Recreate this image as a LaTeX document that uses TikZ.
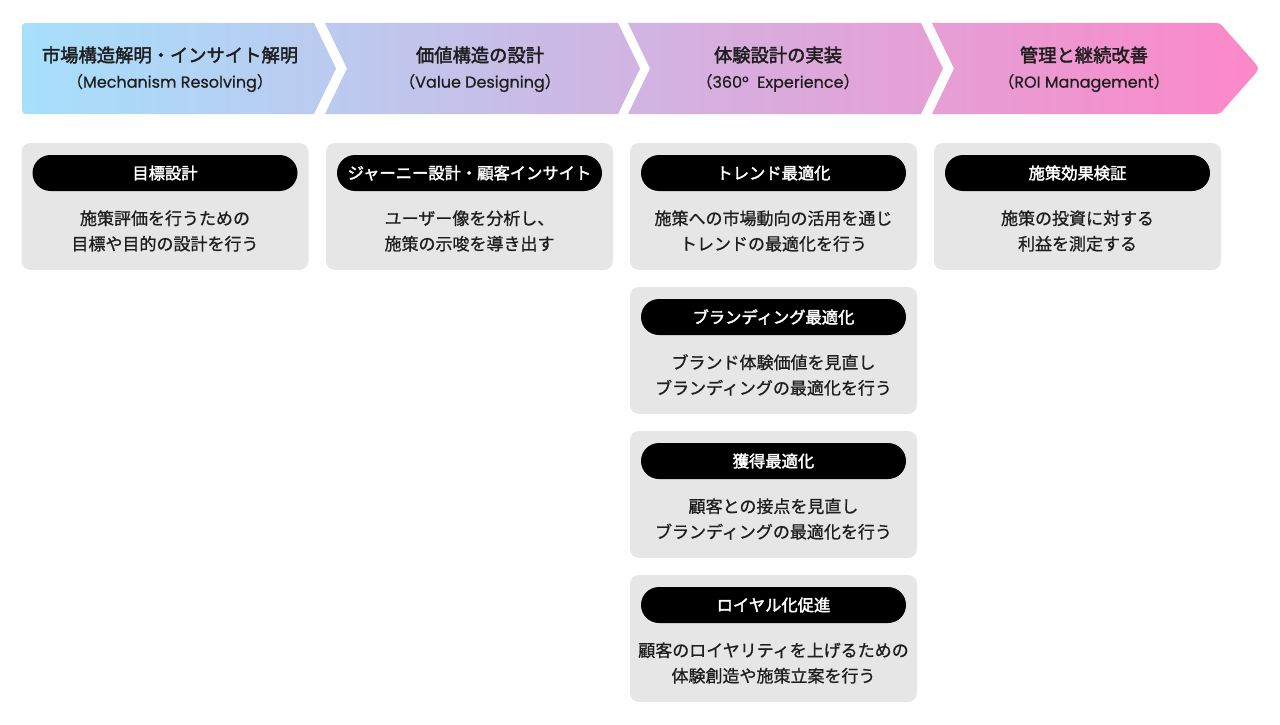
\documentclass[tikz,border=0pt]{standalone}
\usepackage{fontspec}
\setmainfont{Noto Sans CJK JP}
\newfontfamily\jpheavy{Noto Sans CJK JP}[FakeBold=2.2]
\newfontfamily\jpmedium{Noto Sans CJK JP}[FakeBold=0.9]
\newfontfamily\latinsub{Poppins}[FakeBold=0.6]
\usetikzlibrary{positioning}
\definecolor{flowsky}{RGB}{166,224,252}
\definecolor{flowlilac}{RGB}{210,182,230}
\definecolor{flowpink}{RGB}{252,136,200}
\definecolor{cardgray}{RGB}{230,230,230}
\definecolor{inkdark}{RGB}{30,30,30}
\newcommand{\subtag}[1]{（{\latinsub #1}）}
\begin{document}
\begin{tikzpicture}[x=1pt,y=-1pt]
                    \tikzstyle{every node}+=[inner sep=0pt]
                    \tikzstyle{phase}=[text=inkdark,font=\fontsize{18.3}{22}\jpheavy]
                    \tikzstyle{phasesub}=[text=inkdark,font=\fontsize{16}{20}\jpmedium]
                    \tikzstyle{card}=[fill=cardgray,rounded corners=9pt,minimum width=287pt,minimum height=127pt]
                    \tikzstyle{pill}=[fill=black,text=white,rounded corners=18pt,minimum width=265pt,minimum height=36pt,font=\fontsize{16.3}{20}\jpheavy]
                    \tikzstyle{memo}=[text=inkdark,align=center,font=\fontsize{17}{25.5}\jpmedium]
                    \useasboundingbox (0,0) rectangle (1280,725);
                    \shade [left color=flowsky, middle color=flowlilac, right color=flowpink]
                        (30,23) -- (314,23) -- (336,68.5) -- (314,114) -- (30,114) .. controls (22,114) .. (22,106) -- (22,31) .. controls (22,23) .. (30,23) -- cycle
                        (325,23) -- (618,23) -- (640,68.5) -- (618,114) -- (325,114) -- (347,68.5) -- cycle
                        (628,23) -- (921,23) -- (943,68.5) -- (921,114) -- (628,114) -- (650,68.5) -- cycle
                        (932,23) -- (1212,23) .. controls (1220,23) .. (1225,29) -- (1255,63) .. controls (1259,68.5) .. (1255,74) -- (1225,108) .. controls (1220,114) .. (1212,114) -- (932,114) -- (954,68.5) -- cycle;
                    \node [phase] (ph1) at (170,55) {市場構造解明・インサイト解明};
                    \node [phasesub] (ph1s) at (170,83) {\subtag{Mechanism Resolving}};
                    \node [phase] (ph2) at (480,55) {価値構造の設計};
                    \node [phasesub] (ph2s) at (480,83) {\subtag{Value Designing}};
                    \node [phase] (ph3) at (778,55) {体験設計の実装};
                    \node [phasesub] (ph3s) at (778,83) {\subtag{360°\ \ Experience}};
                    \node [phase] (ph4) at (1084,55) {管理と継続改善};
                    \node [phasesub] (ph4s) at (1084,83) {\subtag{ROI Management}};
                    \node [card] (c1) at (165,206.5) {};
                    \node [pill, below=12pt of c1.north] (t1) {目標設計};
                    \node [memo] (d1) at (165,231) {施策評価を行うための\\目標や目的の設計を行う};
                    \node [card] (c2) at (469.5,206.5) {};
                    \node [pill, below=12pt of c2.north] (t2) {ジャーニー設計・顧客インサイト};
                    \node [memo] (d2) at (469.5,231) {ユーザー像を分析し、\\施策の示唆を導き出す};
                    \node [card] (c3) at (773.5,206.5) {};
                    \node [pill, below=12pt of c3.north] (t3) {トレンド最適化};
                    \node [memo] (d3) at (773.5,231) {施策への市場動向の活用を通じ\\トレンドの最適化を行う};
                    \node [card] (c4) at (1077.5,206.5) {};
                    \node [pill, below=12pt of c4.north] (t4) {施策効果検証};
                    \node [memo] (d4) at (1077.5,231) {施策の投資に対する\\利益を測定する};
                    \node [card] (c32) at (773.5,350.5) {};
                    \node [pill, below=12pt of c32.north] (t32) {ブランディング最適化};
                    \node [memo] (d32) at (773.5,375) {ブランド体験価値を見直し\\ブランディングの最適化を行う};
                    \node [card] (c33) at (773.5,494.5) {};
                    \node [pill, below=12pt of c33.north] (t33) {獲得最適化};
                    \node [memo] (d33) at (773.5,519) {顧客との接点を見直し\\ブランディングの最適化を行う};
                    \node [card] (c34) at (773.5,638.5) {};
                    \node [pill, below=12pt of c34.north] (t34) {ロイヤル化促進};
                    \node [memo] (d34) at (773.5,663) {顧客のロイヤリティを上げるための\\体験創造や施策立案を行う};
\end{tikzpicture}
\end{document}
